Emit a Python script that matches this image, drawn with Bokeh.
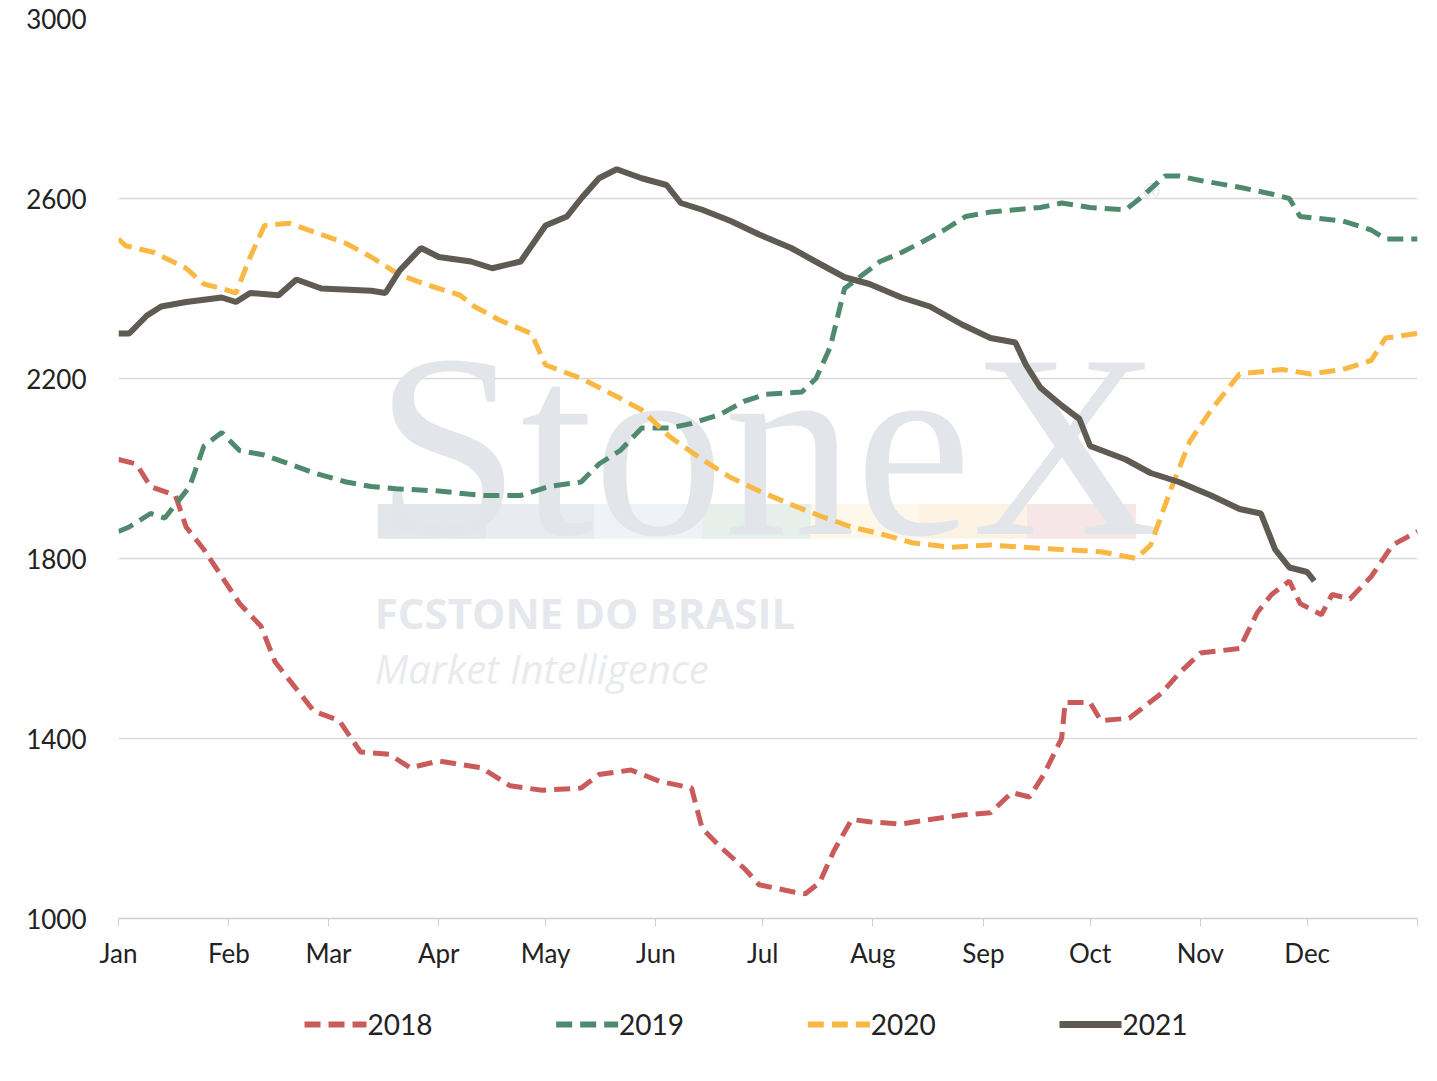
from bokeh.plotting import figure
from bokeh.models import FixedTicker, Range1d
from bokeh.layouts import column
from bokeh.core.properties import value
from bokeh.embed import file_html
from bokeh.resources import INLINE

months = ["Jan","Feb","Mar","Apr","May","Jun","Jul","Aug","Sep","Oct","Nov","Dec"]
month_start = [0,31,59,90,120,151,181,212,243,273,304,334]
series_names = ["2018", "2019", "2020", "2021"]

d2018 = [0,5,9,16,19,24,29,34,40,44,50,55,62,68,76,82,90,102,110,119,130,135,144,152,161,164,169,176,180,189,193,197,201,206,211,220,228,237,245,251,256,260,265,266,273,276,284,293,298,304,315,320,324,329,332,338,341,346,352,358,365]
v2018 = [2020,2010,1960,1940,1870,1820,1760,1700,1650,1570,1510,1460,1440,1370,1365,1335,1350,1335,1295,1285,1290,1320,1330,1305,1290,1200,1160,1110,1075,1060,1055,1080,1150,1220,1215,1210,1220,1230,1235,1280,1270,1320,1400,1480,1480,1440,1445,1500,1545,1590,1600,1680,1720,1750,1700,1675,1720,1710,1760,1830,1860]
d2019 = [0,3,9,13,20,24,29,34,41,48,55,64,71,78,90,102,113,121,130,135,141,147,155,161,169,176,182,192,196,200,204,209,214,220,225,232,238,245,259,265,273,283,287,294,298,304,315,324,329,332,344,352,356,365]
v2019 = [1860,1870,1900,1890,1960,2050,2080,2040,2030,2010,1990,1970,1960,1955,1950,1940,1940,1960,1970,2010,2040,2090,2090,2100,2120,2150,2165,2170,2200,2270,2400,2430,2460,2480,2500,2530,2560,2570,2580,2590,2580,2575,2600,2650,2650,2640,2625,2610,2600,2560,2550,2530,2510,2510]
d2020 = [0,2,10,19,24,29,33,37,41,48,57,64,71,79,88,96,100,107,116,120,130,140,147,155,164,172,180,189,197,206,214,223,234,245,254,265,276,286,290,296,301,307,315,327,335,344,352,356,365]
v2020 = [2510,2495,2480,2445,2410,2400,2390,2470,2540,2545,2520,2500,2470,2430,2405,2385,2360,2330,2300,2230,2200,2160,2130,2070,2020,1980,1950,1920,1895,1870,1855,1835,1825,1830,1825,1820,1815,1800,1830,1960,2060,2130,2210,2220,2210,2220,2240,2290,2300]
d2021 = [0,3,8,12,19,29,33,37,45,50,57,71,75,79,85,90,99,105,113,120,126,130,135,140,147,154,158,164,172,180,189,197,204,211,220,228,237,245,252,255,259,265,270,273,283,290,298,307,315,321,325,329,334,336]
v2021 = [2300,2300,2340,2360,2370,2380,2370,2390,2385,2420,2400,2395,2390,2440,2490,2470,2460,2445,2460,2540,2560,2600,2645,2665,2645,2630,2590,2575,2550,2520,2490,2455,2425,2410,2380,2360,2320,2290,2280,2230,2180,2140,2110,2050,2020,1990,1970,1940,1910,1900,1820,1780,1770,1750]

colors = ["#c95b5b", "#4f8a6e", "#f8b843", "#5f5a52"]
dashes = ["16 8", "16 8", "16 8", "solid"]
widths = [5, 5, 5, 6]

p = figure(frame_width=1299, frame_height=900, output_backend="svg", toolbar_location=None,
           x_range=Range1d(0, 365), y_range=Range1d(1000, 3000),
           min_border_left=118, min_border_right=8, min_border_top=18, min_border_bottom=52)
p.outline_line_color = None
p.xgrid.grid_line_color = None
p.ygrid.grid_line_color = "#d9d9d9"
p.ygrid.grid_line_width = 1.5
p.yaxis.ticker = FixedTicker(ticks=[1000,1400,1800,2200,2600,3000])
p.yaxis.axis_line_color = None
p.yaxis.major_tick_line_color = None
p.yaxis.minor_tick_line_color = None
p.yaxis.major_label_text_font_size = "26px"
p.yaxis.major_label_text_font = "Lato"
p.yaxis.major_label_text_color = "#222222"
p.yaxis.major_label_standoff = 26
p.xaxis.ticker = FixedTicker(ticks=month_start + [365])
p.xaxis.major_label_overrides = {m: n for m, n in zip(month_start, months)} | {365: ""}
p.xaxis.axis_line_color = "#d0d0d0"
p.xaxis.axis_line_width = 1.5
p.xaxis.major_tick_line_color = "#d0d0d0"
p.xaxis.major_tick_in = 0
p.xaxis.major_tick_out = 8
p.xaxis.minor_tick_line_color = None
p.xaxis.major_label_text_font_size = "26px"
p.xaxis.major_label_text_font = "Lato"
p.xaxis.major_label_text_color = "#222222"
p.xaxis.major_label_standoff = 10

# watermark
wm_cols = ["#e3e7ec", "#e8ecf0", "#eff3f7", "#e6efe9", "#fdf8ea", "#fdf3e4", "#f7e6e8"]
lefts = [73 + i * 30.4 for i in range(7)]
p.quad(left=lefts, right=[l + 30.4 for l in lefts], bottom=1845, top=1920, color=wm_cols)
p.text(x=[72], y=[2050], text=["StoneX"], text_font=value("Liberation Serif"),
       text_font_size="262px", text_color="#e2e5e9", text_baseline="alphabetic")
p.text(x=[288], y=[2615], text=["®"], text_font=value("Liberation Sans"),
       text_font_size="22px", text_color="#e2e5e9", text_baseline="middle")
p.text(x=[72], y=[1680], text=["FCSTONE DO BRASIL"], text_font=value("Open Sans"),
       text_font_size="42px", text_font_style="bold", text_color="#e5e8ec", text_baseline="middle")
p.text(x=[72], y=[1555], text=["Market Intelligence"], text_font=value("Open Sans"),
       text_font_size="40px", text_font_style="italic", text_color="#e8ebee", text_baseline="middle")

for (xs, ys), c, dsh, w in zip([(d2018, v2018), (d2019, v2019), (d2020, v2020), (d2021, v2021)],
                               colors, dashes, widths):
    p.line(xs, ys, line_color=c, line_width=w, line_dash=dsh)

# legend as a small strip figure below
lg = figure(width=1429, height=90, output_backend="svg", toolbar_location=None,
            x_range=Range1d(0, 1429), y_range=Range1d(0, 90), min_border=0)
lg.axis.visible = False
lg.grid.grid_line_color = None
lg.outline_line_color = None
starts = [204 + 276 * i for i in range(4)]
for s, c, dsh, w, name in zip(starts, colors, dashes, widths, series_names):
    lg.line([s, s + 68], [37, 37], line_color=c, line_width=w + 1, line_dash=dsh)
    lg.text(x=[s + 69], y=[37], text=[name], text_font=value("Lato"), text_font_size="28px",
            text_color="#222222", text_baseline="middle")

open("out.html", "w").write(file_html(column(p, lg, spacing=0), INLINE))
